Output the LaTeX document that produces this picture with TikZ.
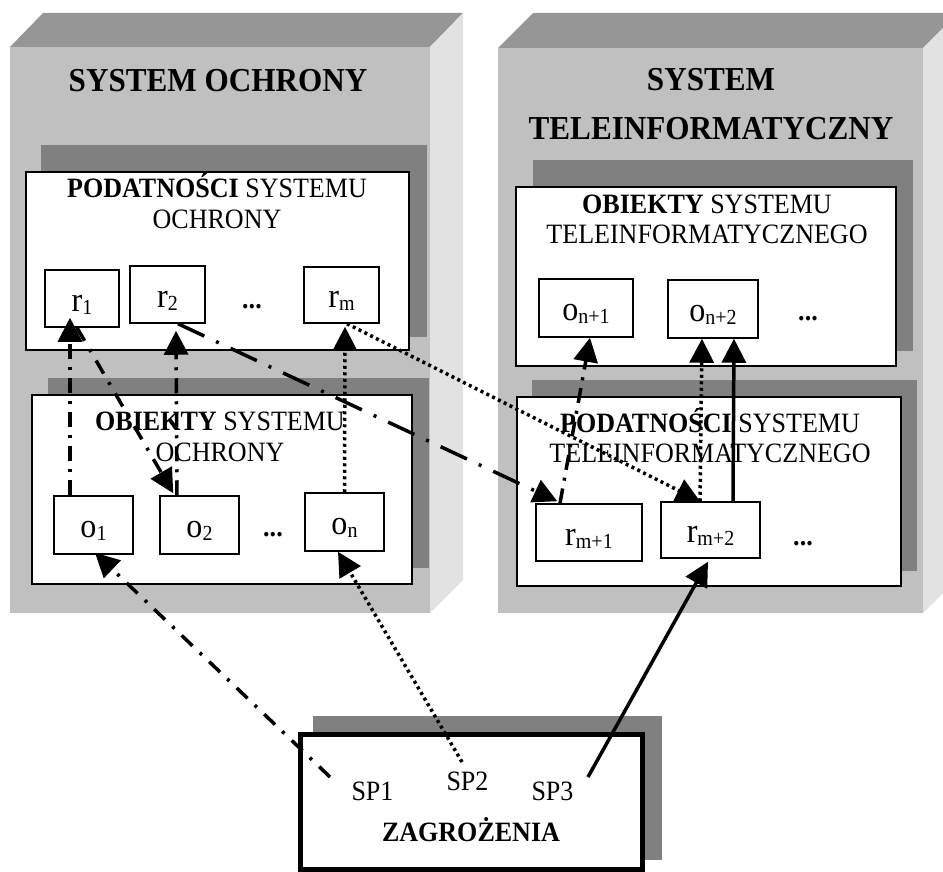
\documentclass[tikz,border=0pt]{standalone}
\usepackage{fontspec}
\setmainfont{Liberation Serif}[FakeStretch=0.93]
\usetikzlibrary{arrows.meta}

\definecolor{frontgray}{HTML}{C0C0C0}
\definecolor{topgray}{HTML}{969696}
\definecolor{sidegray}{HTML}{E2E2E2}
\definecolor{shadowgray}{HTML}{808080}

% lowered index in the small boxes
\newcommand{\lowidx}[1]{\raisebox{-3pt}{\fontsize{21.5}{22}\selectfont #1}}

\begin{document}
\begin{tikzpicture}[x=1pt,y=-1pt,
  panel/.style={draw=black,line width=1.5pt,fill=white,inner sep=0pt},
  shadowbox/.style={fill=shadowgray},
  item/.style={draw=black,line width=1.5pt,fill=white,inner sep=0pt,
    text height=25pt,text depth=0pt,font=\fontsize{34.5}{38}\selectfont},
  ellip/.style={font=\fontsize{28}{32}\selectfont\bfseries,anchor=base,inner sep=0pt},
  caption/.style={font=\fontsize{28}{32}\selectfont,anchor=base,inner sep=0pt},
  heading/.style={font=\fontsize{33.5}{38}\selectfont\bfseries,anchor=base,inner sep=0pt},
  link/.style={line width=3.5pt,-{Triangle[length=24pt,width=24pt]}},
  dashdot/.style={dash pattern=on 15pt off 8pt on 3pt off 8pt},
  looserdashdot/.style={dash pattern=on 15pt off 10pt on 3pt off 10pt},
  longdashdot/.style={dash pattern=on 29pt off 13pt on 3pt off 13pt},
  dotline/.style={dash pattern=on 3pt off 3.5pt},
]
\useasboundingbox (0,0) rectangle (943,872);
\clip (0,0) rectangle (943,872);

% ---- left block: SYSTEM OCHRONY
\fill[topgray] (10,47) -- (43,13) -- (463,13) -- (430,47) -- cycle;
\fill[sidegray] (430,47) -- (463,13) -- (463,580) -- (430,613) -- cycle;
\fill[frontgray] (10,47) rectangle (430,613);

% ---- right block: SYSTEM TELEINFORMATYCZNY
\fill[topgray] (498,48) -- (533,13) -- (958,13) -- (923,48) -- cycle;
\fill[sidegray] (923,48) -- (958,13) -- (958,578) -- (923,613) -- cycle;
\fill[frontgray] (498,48) rectangle (923,613);

% ---- headings
\node[heading] (hl) at (218,92) {SYSTEM OCHRONY};
\node[heading] (hr1) at (711,91) {SYSTEM};
\node[heading] (hr2) at (711,140) {TELEINFORMATYCZNY};

% ---- shadows of the inner panels
\fill[shadowbox] (41,145) rectangle (427,337);
\fill[shadowbox] (48,378) rectangle (429,568);
\fill[shadowbox] (533,160) rectangle (913,351);
\fill[shadowbox] (532,380) rectangle (917,571);

% ---- inner panels
\node[panel,minimum width=383pt,minimum height=178pt] (ptl) at (217.5,261) {};
\node[panel,minimum width=380pt,minimum height=189pt] (pbl) at (222,489.5) {};
\node[panel,minimum width=380pt,minimum height=179pt] (ptr) at (706,276.5) {};
\node[panel,minimum width=384pt,minimum height=189pt] (pbr) at (709,491.5) {};

% ---- panel captions
\node[caption] (ctl1) at (217,197) {\textbf{PODATNOŚCI} SYSTEMU};
\node[caption] (ctl2) at (217,228) {OCHRONY};
\node[caption] (cbl1) at (220,430) {\textbf{OBIEKTY} SYSTEMU};
\node[caption] (cbl2) at (220,461) {OCHRONY};
\node[caption] (ctr1) at (707,213) {\textbf{OBIEKTY} SYSTEMU};
\node[caption] (ctr2) at (707,243) {TELEINFORMATYCZNEGO};
\node[caption] (cbr1) at (710,432) {\textbf{PODATNOŚCI} SYSTEMU};
\node[caption] (cbr2) at (710,462) {TELEINFORMATYCZNEGO};

% ---- elements
\node[item,minimum width=74pt,minimum height=57pt] (r1) at (82,298.5) {r\lowidx{1}};
\node[item,minimum width=75pt,minimum height=57pt] (r2) at (167.5,294.5) {r\lowidx{2}};
\node[item,minimum width=75pt,minimum height=56pt] (rm) at (341.5,295) {r\lowidx{m}};
\node[ellip] (dtl) at (252,308) {...};

\node[item,minimum width=79pt,minimum height=58pt] (o1) at (93.5,525) {o\lowidx{1}};
\node[item,minimum width=79pt,minimum height=58pt] (o2) at (199.5,525) {o\lowidx{2}};
\node[item,minimum width=79pt,minimum height=58pt] (on) at (344.5,522) {o\lowidx{n}};
\node[ellip] (dbl) at (273,536) {...};

\node[item,minimum width=94pt,minimum height=58pt] (onone) at (586,308) {o\lowidx{n+1}};
\node[item,minimum width=90pt,minimum height=58pt] (ontwo) at (713,309) {o\lowidx{n+2}};
\node[ellip] (dtr) at (808,320) {...};

\node[item,minimum width=106pt,minimum height=57pt] (rmone) at (589,532.5) {r\lowidx{m+1}};
\node[item,minimum width=99pt,minimum height=56pt] (rmtwo) at (710.5,530) {r\lowidx{m+2}};
\node[ellip] (dbr) at (803,545) {...};

% ---- threats
\fill[shadowbox] (313,716) rectangle (662,860);
\node[draw=black,line width=5pt,fill=white,inner sep=0pt,
  minimum width=342pt,minimum height=135pt] (zbox) at (471.5,802) {};
\node[caption] (sp1) at (372.5,800) {SP1};
\node[caption] (sp2) at (467.5,790) {SP2};
\node[caption] (sp3) at (552.5,800.5) {SP3};
\node[caption,font=\fontsize{28}{32}\selectfont\bfseries] (zt) at (471,841) {ZAGROŻENIA};

\coordinate (sp1end) at (330,777);
\coordinate (sp2end) at (462,762);
\coordinate (sp3end) at (588,777);

% ---- connectors
\draw[link,dashdot] ([xshift=-23.5pt]o1.north) -- ([xshift=-12pt,yshift=10pt]r1.south);
\draw[link,looserdashdot] ([xshift=-5pt]r1.south) -- ([xshift=14pt,yshift=2pt]o2.north west);
\draw[link,dashdot] ([xshift=-22.5pt]o2.north) -- ([xshift=8.5pt,yshift=-7pt]r2.south);
\draw[link,longdashdot] ([xshift=10.5pt]r2.south) -- ([xshift=22pt,yshift=2pt]rmone.north west);
\draw[link,dotline] (on.north) -- ([xshift=3.5pt,yshift=-3pt]rm.south);
\draw[link,dotline] ([xshift=5.5pt]rm.south) -- ([xshift=-10.5pt]rmtwo.north);
\draw[link,dashdot] ([xshift=-29pt]rmone.north) -- ([xshift=4pt]onone.south);
\draw[link,dotline] ([xshift=-10.5pt]rmtwo.north) -- ([xshift=-11pt]ontwo.south);
\draw[link] ([xshift=22.5pt]rmtwo.north) -- ([xshift=21pt]ontwo.south);
\draw[link,looserdashdot] (sp1end) -- ([xshift=1.5pt,yshift=2pt]o1.south);
\draw[link,dotline] (sp2end) -- ([xshift=-6.5pt]on.south);
\draw[link] (sp3end) -- ([xshift=-2.5pt,yshift=-3pt]rmtwo.south);
\end{tikzpicture}
\end{document}
